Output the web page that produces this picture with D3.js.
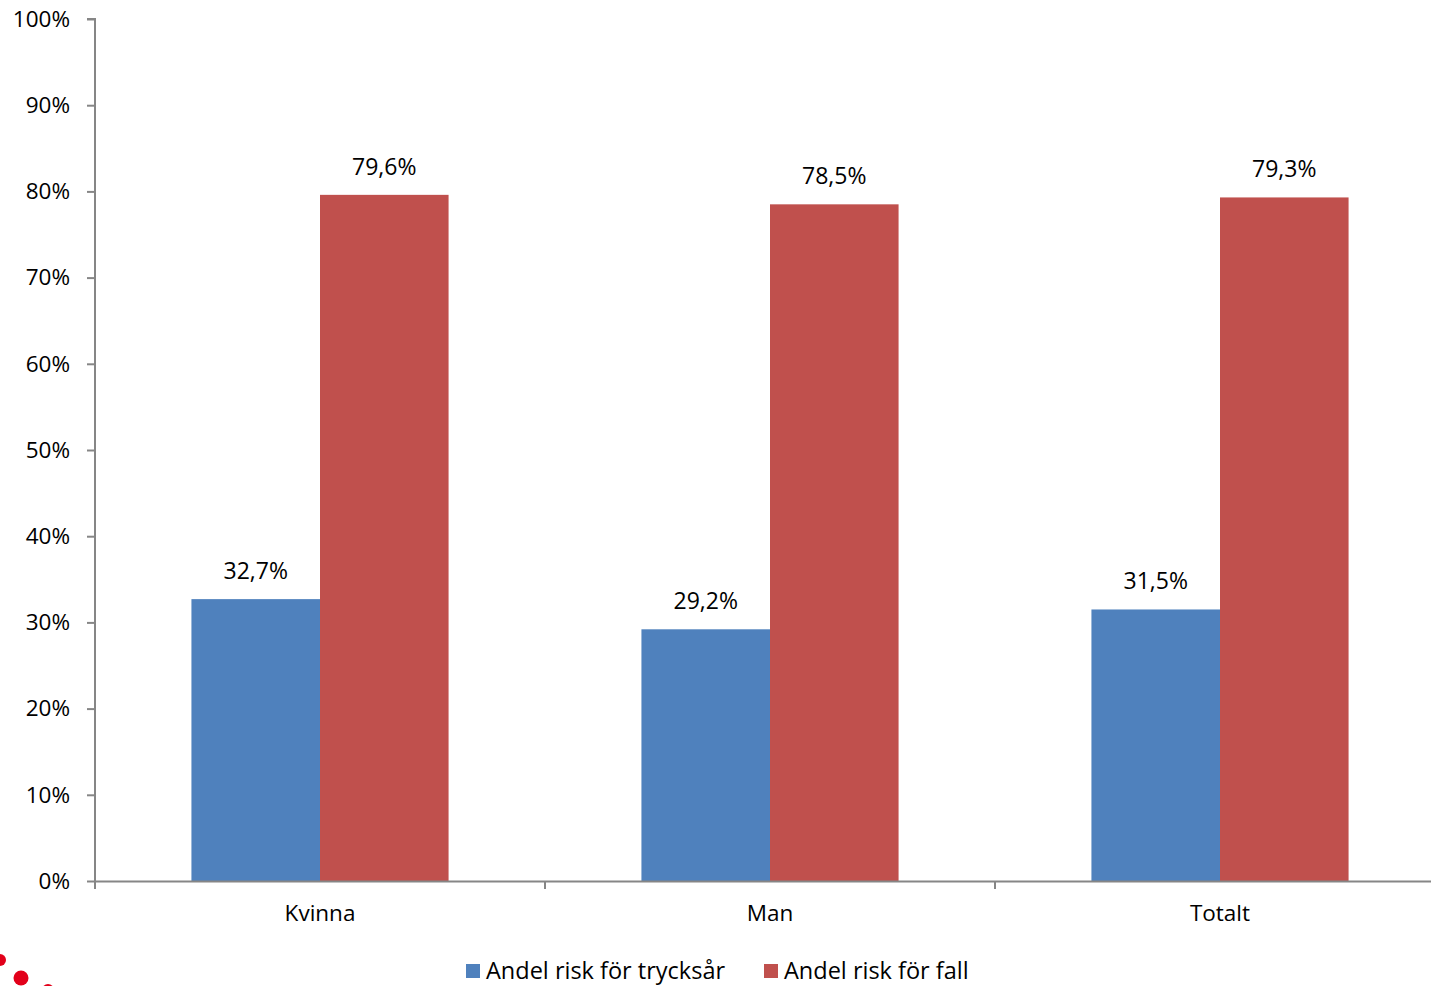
<!DOCTYPE html>
<html>
<head>
<meta charset="utf-8">
<script src="https://cdn.jsdelivr.net/npm/d3@7"></script>
<style>
  body { margin: 0; background: #fff; }
  text { font-family: "Open Sans", "Noto Sans", sans-serif; fill: #000; }
</style>
</head>
<body>
<svg id="chart"></svg>
<script>
var categories = ["Kvinna", "Man", "Totalt"];
var seriesNames = ["Andel risk för trycksår", "Andel risk för fall"];
var tryckValues = [32.7, 29.2, 31.5];
var fallValues = [79.6, 78.5, 79.3];
var yTicks = [0, 10, 20, 30, 40, 50, 60, 70, 80, 90, 100];
var colors = ["#4f81bd", "#c0504d"];

var screen = { width: 1431, height: 986 };
var margins = { top: 19, bottom: 105, left: 95, right: -14 };
var width = screen.width - margins.left - margins.right;
var height = screen.height - margins.top - margins.bottom;

var svg = d3.select("#chart")
  .attr("width", screen.width)
  .attr("height", screen.height);

var xScale = d3.scaleBand()
  .domain(categories)
  .range([margins.left, margins.left + width]);
var xInner = d3.scaleBand()
  .domain([0, 1])
  .range([0, xScale.bandwidth()])
  .paddingOuter(0.75);
var yScale = d3.scaleLinear()
  .domain([0, 100])
  .range([margins.top + height, margins.top]);

var fmt = function(v) { return v.toFixed(1).replace(".", ",") + "%"; };

// bars
var rows = categories.map(function(c, i) {
  return [{ cat: c, s: 0, v: tryckValues[i] }, { cat: c, s: 1, v: fallValues[i] }];
});
var groups = svg.selectAll("g.cat")
  .data(rows)
  .enter().append("g")
  .attr("class", "cat")
  .attr("transform", function(d) { return "translate(" + xScale(d[0].cat) + ",0)"; });

groups.selectAll("rect")
  .data(function(d) { return d; })
  .enter().append("rect")
  .attr("x", function(d) { return xInner(d.s); })
  .attr("width", xInner.bandwidth())
  .attr("y", function(d) { return yScale(d.v); })
  .attr("height", function(d) { return yScale(0) - yScale(d.v); })
  .attr("fill", function(d) { return colors[d.s]; });

groups.selectAll("text.lbl")
  .data(function(d) { return d; })
  .enter().append("text")
  .attr("class", "lbl")
  .attr("x", function(d) { return xInner(d.s) + xInner.bandwidth() / 2; })
  .attr("y", function(d) { return yScale(d.v) - 20; })
  .attr("text-anchor", "middle")
  .style("font-size", "23px")
  .text(function(d) { return fmt(d.v); });

// y axis
var yAxis = d3.axisLeft(yScale)
  .tickValues(yTicks)
  .tickSize(8)
  .tickPadding(17)
  .tickFormat(function(d) { return d + "%"; });
var yA = svg.append("g")
  .attr("transform", "translate(" + margins.left + ",0)")
  .call(yAxis);
yA.select(".domain").attr("stroke", "#868686").attr("stroke-width", 2).attr("d", "M-8," + yScale(100) + "H0V" + (yScale(0) + 8));
yA.selectAll(".tick line").attr("stroke", "#868686").attr("stroke-width", 2);
yA.selectAll(".tick text").style("font-size", "22.5px").attr("font-family", null);

// x axis
var xAxis = d3.axisBottom(xScale)
  .tickSize(0)
  .tickPadding(24);
var xA = svg.append("g")
  .attr("transform", "translate(0," + yScale(0) + ")")
  .call(xAxis);
xA.select(".domain").attr("stroke", "#868686").attr("stroke-width", 2);
xA.selectAll(".tick text").style("font-size", "22.5px").attr("font-family", null);
xA.selectAll("line.sep")
  .data(categories.slice(1))
  .enter().append("line")
  .attr("class", "sep")
  .attr("x1", function(d) { return xScale(d); })
  .attr("x2", function(d) { return xScale(d); })
  .attr("y1", 0).attr("y2", 8)
  .attr("stroke", "#868686").attr("stroke-width", 2);

// legend
var legendX = [466, 764];
var legend = svg.selectAll("g.legend")
  .data(seriesNames)
  .enter().append("g")
  .attr("class", "legend")
  .attr("transform", function(d, i) { return "translate(" + legendX[i] + ",964)"; });
legend.append("rect")
  .attr("width", 14).attr("height", 14)
  .attr("fill", function(d, i) { return colors[i]; });
legend.append("text")
  .attr("x", 20).attr("y", 15)
  .style("font-size", "23.5px")
  .text(function(d) { return d; });

// logo dots in the corner
svg.append("circle").attr("cx", 0).attr("cy", 960).attr("r", 6).attr("fill", "#e2001a");
svg.append("circle").attr("cx", 21).attr("cy", 978).attr("r", 7.5).attr("fill", "#e2001a");
svg.append("circle").attr("cx", 48).attr("cy", 990).attr("r", 6).attr("fill", "#e2001a");
</script>
</body>
</html>
